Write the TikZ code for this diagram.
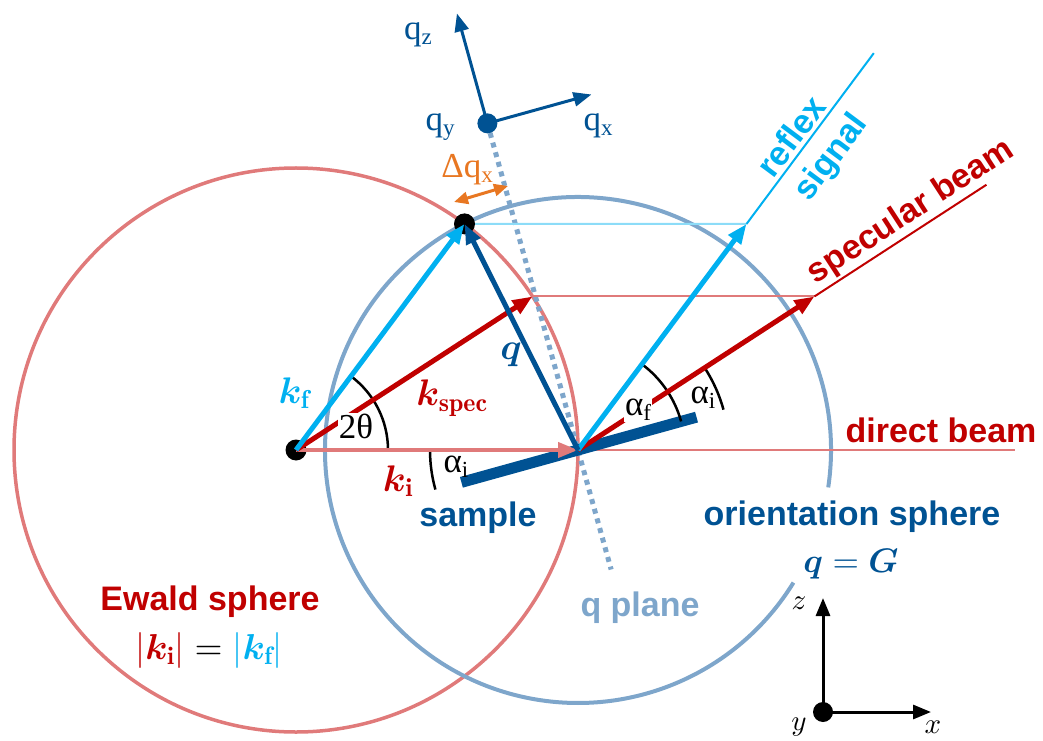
\documentclass[tikz,border=0pt]{standalone}
\usepackage{amsmath,bm}
\usepackage{fontspec}
\newfontfamily\labelfont{Liberation Sans}
\newfontfamily\greekfont{Liberation Serif}
\usetikzlibrary{arrows.meta,calc}

% scalable math fonts
\DeclareFontShape{OML}{cmm}{m}{it}{<->cmmi10}{}
\DeclareFontShape{OML}{cmm}{b}{it}{<->cmmib10}{}
\DeclareFontShape{OMS}{cmsy}{m}{n}{<->cmsy10}{}
\DeclareFontShape{OMS}{cmsy}{b}{n}{<->cmbsy10}{}
\DeclareFontShape{OMX}{cmex}{m}{n}{<->cmex10}{}
\DeclareFontFamily{OT1}{cmr}{\hyphenchar\font45 }
\DeclareFontShape{OT1}{cmr}{m}{n}{<->cmr10}{}
\DeclareFontShape{OT1}{cmr}{bx}{n}{<->cmbx10}{}

\definecolor{ewaldred}{RGB}{224,122,122}
\definecolor{beamred}{RGB}{192,0,0}
\definecolor{sigcyan}{RGB}{0,176,240}
\definecolor{qblue}{RGB}{0,82,147}
\definecolor{orblue}{RGB}{126,166,203}
\definecolor{dqorange}{RGB}{232,119,34}

\newcommand{\lowidx}[1]{\raisebox{-0.3ex}{\fontsize{23}{24}\selectfont #1}}

\begin{document}
\begin{tikzpicture}[
  x=1pt, y=1pt,
  txt/.style={font=\fontsize{34}{36}\selectfont\labelfont\bfseries},
  grk/.style={font=\fontsize{35}{37}\selectfont\greekfont, inner sep=1pt},
  mth/.style={font=\fontsize{37}{39}\selectfont, inner sep=1pt},
  vec/.style={line width=5pt, -{Triangle[length=20pt,width=15pt]}},
  ray/.style={line width=2pt},
  axis/.style={line width=3pt, -{Triangle[length=18pt,width=14pt]}},
  angarc/.style={line width=2.5pt, black},
  dot/.style={circle, fill, inner sep=0pt, minimum size=21pt}
]
\useasboundingbox (0,0) rectangle (1043,740);

% ---- Key points ----
\coordinate (C)  at (296,290);
\coordinate (O)  at (578,290);
\coordinate (P)  at (464.5,516.1);
\coordinate (S)  at ($(C)+(33:282)$);
\coordinate (Sb) at ($(O)+(33:282)$);
\coordinate (Se) at ($(O)+(33:487)$);
\coordinate (Rb) at ($(O)+(53.3:282)$);
\coordinate (Re) at ($(O)+(53.3:495)$);
\coordinate (D)  at (1015,290);
\coordinate (Q0) at ($(O)+(105.5:339)$);
\coordinate (Qe) at ($(O)+(-74.5:124)$);
\coordinate (Qz) at ($(Q0)+(105.5:114)$);
\coordinate (Qx) at ($(Q0)+(15.5:108)$);
\coordinate (Sa) at ($(O)+(195.5:121)$);
\coordinate (Sc) at ($(O)+(15.5:123)$);
\coordinate (Da) at (454,538);
\coordinate (Db) at (508,554);
\coordinate (A0) at (823,28);
\coordinate (Az) at (823,142);
\coordinate (Ax) at (931,28);

% ---- Spheres ----
\draw[ewaldred, line width=3.5pt] (C) circle (282);
\draw[orblue, line width=4pt] (O) ++(-8.5:253) arc (-8.5:328.4:253);

% ---- q plane ----
\draw[orblue, line width=5pt, dash pattern=on 5pt off 5pt] (Q0) -- (Qe);

% ---- Guide lines ----
\draw[ray, ewaldred] (S) -- (Sb);
\draw[ray, sigcyan!45] (P) -- (Rb);
\draw[ray, ewaldred] (O) -- (D);
\draw[ray, beamred] (Sb) -- (Se);
\draw[ray, sigcyan] (Rb) -- (Re);

% ---- Sample ----
\draw[qblue, line width=11pt] (Sa) -- (Sc);

% ---- Angles ----
\draw[angarc] (C) ++(0:92) arc (0:53.3:92);
\draw[angarc] (O) ++(180:148) arc (180:195.5:148);
\draw[angarc] (O) ++(15.5:107) arc (15.5:53.3:107);
\draw[angarc] (O) ++(15.5:151) arc (15.5:33:151);

% ---- Dots ----
\node[dot] (Cd) at (C) {};
\node[dot] (Pd) at (P) {};
\node[dot, qblue, minimum size=20pt] (Q0d) at (Q0) {};
\node[dot, minimum size=20pt] (A0d) at (A0) {};

% ---- Wave vectors ----
\draw[vec, ewaldred, line width=4pt] (C) -- (O);
\draw[vec, beamred] (C) -- (S);
\draw[vec, beamred] (O) -- (Sb);
\draw[vec, sigcyan] (O) -- (Rb);
\draw[vec, sigcyan] (C) -- (P);
\draw[vec, qblue] (O) -- (P);

% ---- q axes ----
\draw[axis, qblue] (Q0) -- (Qz);
\draw[axis, qblue] (Q0) -- (Qx);
\draw[dqorange, line width=3pt, {Triangle[length=14pt,width=12pt]}-{Triangle[length=14pt,width=12pt]}] (Da) -- (Db);

% ---- xyz axes ----
\draw[axis, black] (A0) -- (Az);
\draw[axis, black] (A0) -- (Ax);

% ---- Labels ----
\node[grk, fill=white] (l2t) at (356,314) {2θ};
\node[grk, fill=white] (laf) at (638,330) {α\lowidx{f}};
\node[grk] (lai) at (703,342) {α\lowidx{i}};
\node[grk] (lai2) at (456,273) {α\lowidx{i}};
\node[grk, text=qblue] (lqz) at (418,705) {q\lowidx{z}};
\node[grk, text=qblue] (lqy) at (440,613) {q\lowidx{y}};
\node[grk, text=qblue] (lqx) at (598,614) {q\lowidx{x}};
\node[grk, text=dqorange] (ldq) at (467,570) {Δq\lowidx{x}};

\node[mth, text=sigcyan] (lkf) at (294,347) {$\bm{k}_{\mathbf{f}}$};
\node[mth, text=beamred] (lks) at (452,342) {$\bm{k}_{\mathbf{spec}}$};
\node[mth, text=beamred] (lki) at (398,259) {$\bm{k}_{\mathbf{i}}$};
\node[mth, text=qblue] (lq) at (511,385) {$\bm{q}$};
\node[mth, text=qblue, font=\fontsize{34}{36}\selectfont] (lqG) at (851,176) {$\bm{q}=\bm{G}$};
\node[mth, font=\fontsize{36}{38}\selectfont] (lkk) at (209,90) {$\textcolor{beamred}{|\bm{k}_{\mathbf{i}}|}=\textcolor{sigcyan}{|\bm{k}_{\mathbf{f}}|}$};

\node[txt, text=sigcyan, rotate=53.3] (lrefl) at (791,604) {reflex};
\node[txt, text=sigcyan, rotate=53.3] (lsig) at (832,582) {signal};
\node[txt, text=beamred, rotate=33] (lspec) at (911,528) {specular beam};
\node[txt, text=beamred] (ldir) at (941,310) {direct beam};
\node[txt, text=qblue] (lsam) at (478,222) {sample};
\node[txt, text=qblue] (lori) at (852,223) {orientation sphere};
\node[txt, text=orblue] (lqp) at (640,132) {q plane};
\node[txt, text=beamred] (lew) at (210,138) {Ewald sphere};

\node[mth, font=\fontsize{29}{31}\selectfont] (lz) at (799,137) {$z$};
\node[mth, font=\fontsize{29}{31}\selectfont] (ly) at (799,13) {$y$};
\node[mth, font=\fontsize{29}{31}\selectfont] (lx) at (933,13) {$x$};

\end{tikzpicture}
\end{document}
